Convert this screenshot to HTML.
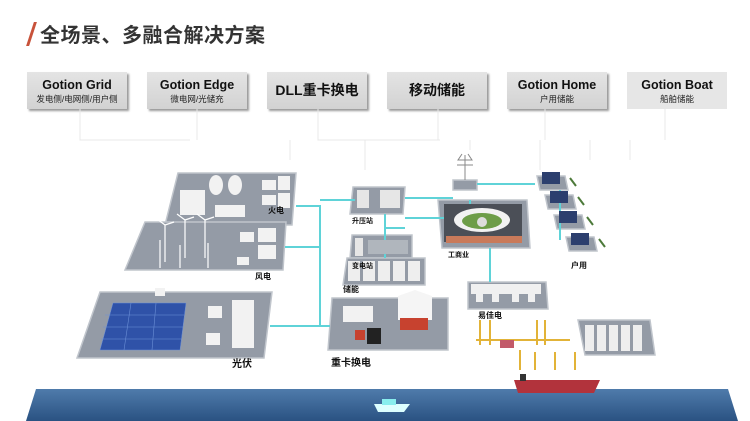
<!DOCTYPE html>
<html><head><meta charset="utf-8"><style>
body{margin:0;width:750px;height:421px;background:#fff;overflow:hidden;position:relative;font-family:"Liberation Sans","Noto Sans CJK SC",sans-serif}
.t{position:absolute;left:40px;top:19px;font-size:20px;font-weight:bold;color:#333;letter-spacing:0.5px}
.sl{position:absolute;left:30px;top:22px;width:3px;height:24px;background:#c8523a;transform:skewX(-18deg)}
.b{position:absolute;top:72px;width:100px;height:37px;background:linear-gradient(#e4e4e4,#d2d2d2);box-shadow:2px 2px 2px #999;text-align:center;color:#111}
.b .a{font-size:12.5px;font-weight:bold;margin-top:6px;line-height:14px}
.b .s{font-size:8.5px;margin-top:1px;color:#222}
.b .c{font-size:14px;font-weight:bold;line-height:37px}
svg{position:absolute;left:0;top:0}
</style></head><body>
<div class="sl"></div><div class="t">全场景、多融合解决方案</div>
<div class="b" style="left:27px"><div class="a">Gotion Grid</div><div class="s">发电侧/电网侧/用户侧</div></div>
<div class="b" style="left:147px"><div class="a">Gotion Edge</div><div class="s">微电网/光储充</div></div>
<div class="b" style="left:267px"><div class="c">DLL重卡换电</div></div>
<div class="b" style="left:387px"><div class="c">移动储能</div></div>
<div class="b" style="left:507px"><div class="a">Gotion Home</div><div class="s">户用储能</div></div>
<div class="b" style="left:627px;box-shadow:none;background:#e6e6e6"><div class="a">Gotion Boat</div><div class="s">船舶储能</div></div>
<svg width="750" height="421" viewBox="0 0 750 421">
<g stroke="#e8e8e8" stroke-width="1" fill="none">
<path d="M80 109V140H190 M197 109V140 M318 109V140H440 M438 109V140 M545 109V140 M665 109V140 M290 140V160 M365 140V170 M470 140V150 M540 140V170 M590 140V160 M630 140V160"/>
</g>
<defs><linearGradient id="sea" x1="0" y1="0" x2="0" y2="1"><stop offset="0" stop-color="#4f7bab"/><stop offset="1" stop-color="#2a5282"/></linearGradient></defs>
<polygon points="36,389 728,389 738,421 26,421" fill="url(#sea)"/>
<g fill="#949ba6" stroke="#c0c5cc" stroke-width="1.5">
<polygon points="178,173 296,173 292,225 165,225"/>
<polygon points="145,222 286,222 283,270 125,270"/>
<polygon points="100,292 272,292 264,358 77,358"/>
<polygon points="353,187 405,187 403,214 350,214"/>
<polygon points="352,235 412,235 412,258 350,258"/>
<polygon points="347,258 425,258 425,285 343,285"/>
<polygon points="332,298 448,298 448,350 328,350"/>
<polygon points="438,200 527,200 530,248 442,248"/>
<polygon points="453,180 477,180 477,190 453,190"/>
<polygon points="468,282 546,282 548,309 468,309"/>
<polygon points="578,320 650,320 655,355 585,355"/>
<polygon points="537,176 565,176 568,190 540,190"/>
<polygon points="545,195 573,195 576,209 548,209"/>
<polygon points="554,215 582,215 585,229 557,229"/>
<polygon points="566,237 594,237 597,251 569,251"/>
</g>
<g stroke="#5fd3d8" stroke-width="2" fill="none">
<path d="M296 206H320V326 M285 247H320 M270 326H330 M320 200H355 M405 198H453 M477 184H535 M405 218H470V200 M385 214V258 M385 228H405 M490 248V282 M560 190V240"/>
</g>
<g fill="#f2f2f2"><ellipse cx="216" cy="185" rx="7" ry="10"/><ellipse cx="235" cy="185" rx="7" ry="10"/><rect x="180" y="190" width="25" height="25"/><rect x="262" y="180" width="14" height="10"/><rect x="262" y="195" width="14" height="10"/><rect x="278" y="176" width="12" height="14"/><rect x="278" y="193" width="12" height="15"/><rect x="215" y="205" width="30" height="12"/></g>
<g stroke="#fff" stroke-width="1.2"><path d="M165 225V262 M185 220V258 M205 220V258 M160 240V268 M180 245V268 M208 243V268 M165 225l-8-6M165 225l9-3M185 220l-8-6M185 220l9-3M205 220l-8-6M205 220l9-3"/></g>
<g fill="#f2f2f2"><rect x="240" y="232" width="14" height="10"/><rect x="258" y="228" width="18" height="14"/><rect x="258" y="245" width="18" height="14"/><rect x="237" y="257" width="12" height="8"/></g>
<g fill="#2f52a8" stroke="#6b8fd6" stroke-width="0.5"><polygon points="113,303 186,303 180,350 100,350"/></g>
<g stroke="#6b8fd6" stroke-width="0.6"><path d="M105 315H184 M103 327H183 M101 339H181 M131 303L124 350 M156 303L152 350"/></g>
<g fill="#f2f2f2"><rect x="208" y="306" width="14" height="12"/><rect x="232" y="300" width="22" height="26"/><rect x="206" y="333" width="14" height="12"/><rect x="232" y="326" width="22" height="22"/><rect x="155" y="288" width="10" height="8"/></g>
<g fill="#e6e6e6"><rect x="357" y="190" width="12" height="18"/><rect x="380" y="190" width="20" height="18"/><rect x="355" y="238" width="8" height="18"/><rect x="368" y="240" width="40" height="14" fill="#b0b6bd"/></g>
<g fill="#eee"><rect x="348" y="261" width="12" height="20"/><rect x="363" y="261" width="12" height="20"/><rect x="378" y="261" width="12" height="20"/><rect x="393" y="261" width="12" height="20"/><rect x="408" y="261" width="12" height="20"/></g>
<g><rect x="343" y="306" width="30" height="16" fill="#f2f2f2"/><polygon points="398,296 415,290 432,296 432,320 398,320" fill="#f5f5f5"/><rect x="400" y="318" width="28" height="12" fill="#c7422f"/><rect x="355" y="330" width="10" height="10" fill="#c7422f"/><rect x="367" y="328" width="14" height="16" fill="#222"/></g>
<rect x="444" y="204" width="78" height="38" fill="#4b4f57"/><ellipse cx="482" cy="220" rx="28" ry="12" fill="#f2f2f2"/><ellipse cx="482" cy="221" rx="20" ry="8" fill="#6d9d48"/><circle cx="482" cy="222" r="5" fill="#ddd"/><rect x="446" y="236" width="76" height="7" fill="#c97a5a"/>
<path d="M462 154L458 160H472L468 154M465 155V180M457 165H473" stroke="#888" fill="none"/>
<g fill="#2c3f6e"><rect x="542" y="172" width="18" height="12"/><rect x="550" y="191" width="18" height="12"/><rect x="559" y="211" width="18" height="12"/><rect x="571" y="233" width="18" height="12"/></g>
<g stroke="#4d7a3a" stroke-width="2"><path d="M570 178l6 8 M578 197l6 8 M587 217l6 8 M599 239l6 8"/></g>
<g fill="#f0f0f0"><rect x="471" y="284" width="70" height="10"/><rect x="476" y="290" width="7" height="12"/><rect x="492" y="290" width="7" height="12"/><rect x="512" y="290" width="7" height="12"/><rect x="528" y="290" width="7" height="12"/></g>
<g stroke="#e2b338" stroke-width="2" fill="none"><path d="M480 320V345 M490 320V345 M537 320V345 M545 320V345 M476 340H570 M520 350V370 M535 352V370 M555 352V370 M575 352V370"/></g>
<rect x="500" y="340" width="14" height="8" fill="#c25a6a"/>
<g fill="#eee"><rect x="585" y="325" width="9" height="26"/><rect x="597" y="325" width="9" height="26"/><rect x="609" y="325" width="9" height="26"/><rect x="621" y="325" width="9" height="26"/><rect x="633" y="325" width="9" height="26"/></g>
<polygon points="514,380 600,380 594,393 518,393" fill="#b2333c"/><rect x="520" y="374" width="6" height="7" fill="#333"/>
<polygon points="374,404 410,404 404,412 378,412" fill="#dff"/><rect x="382" y="399" width="14" height="6" fill="#8ee"/>
<g font-size="8" fill="#111" font-weight="bold" font-family="Liberation Sans,Noto Sans CJK SC,sans-serif">
<text x="268" y="213">火电</text><text x="255" y="279">风电</text><text x="232" y="367" font-size="10">光伏</text>
<text x="352" y="223" font-size="7">升压站</text><text x="352" y="268" font-size="7">变电站</text><text x="343" y="292">储能</text>
<text x="331" y="366" font-size="10">重卡换电</text><text x="448" y="257" font-size="7">工商业</text>
<text x="571" y="268">户用</text><text x="478" y="318">易佳电</text>
</g>
</svg>
</body></html>
